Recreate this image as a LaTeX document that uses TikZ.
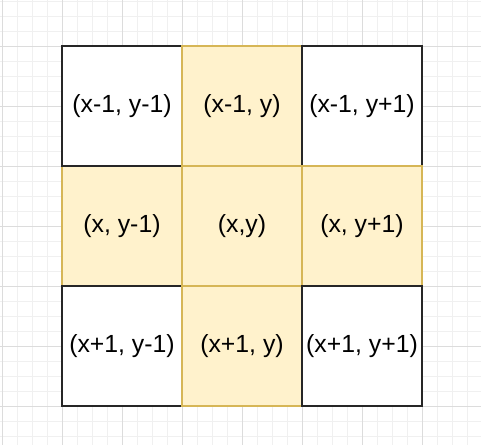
\documentclass[tikz,border=0pt]{standalone}
\usepackage{fontspec}
\setmainfont{Liberation Sans}
\definecolor{cellfill}{HTML}{FFF2CC}
\definecolor{celldraw}{HTML}{D6B656}
\definecolor{gridminor}{HTML}{F0F0F0}
\definecolor{gridmajor}{HTML}{DCDCDC}
\begin{document}
\begin{tikzpicture}[x=1pt,y=-1pt,
  cellbase/.style={minimum width=120pt,minimum height=120pt,inner sep=0pt,line width=1.1pt,font=\fontsize{24.8}{28}\selectfont},
  yellowcell/.style={cellbase,draw=celldraw,fill=cellfill},
  whitecell/.style={cellbase,draw=black!85,fill=white}]
\useasboundingbox (0,0) rectangle (481,445);
\fill[white] (0,0) rectangle (481,445);
% minor grid
\foreach \i in {0,...,32} {\draw[gridminor,line width=0.8pt] ({2+15*\i},0) -- ({2+15*\i},445);}
\foreach \i in {0,...,29} {\draw[gridminor,line width=0.8pt] (0,{1+15*\i}) -- (481,{1+15*\i});}
% major grid
\foreach \i in {0,...,7} {\draw[gridmajor,line width=0.8pt] ({2+60*\i},0) -- ({2+60*\i},445);}
\foreach \i in {0,...,6} {\draw[gridmajor,line width=0.8pt] (0,{46+60*\i}) -- (481,{46+60*\i});}
% cells
\node[yellowcell] (ml) at (122,226) {(x, y-1)};
\node[whitecell]  (tl) at (122,106) {(x-1, y-1)};
\node[yellowcell] (tm) at (242,106) {(x-1, y)};
\node[whitecell]  (tr) at (362,106) {(x-1, y+1)};
\node[yellowcell] (mm) at (242,226) {(x,y)};
\node[yellowcell] (mr) at (362,226) {(x, y+1)};
\node[whitecell]  (bl) at (122,346) {(x+1, y-1)};
\node[yellowcell] (bm) at (242,346) {(x+1, y)};
\node[whitecell]  (br) at (362,346) {(x+1, y+1)};
\end{tikzpicture}
\end{document}
